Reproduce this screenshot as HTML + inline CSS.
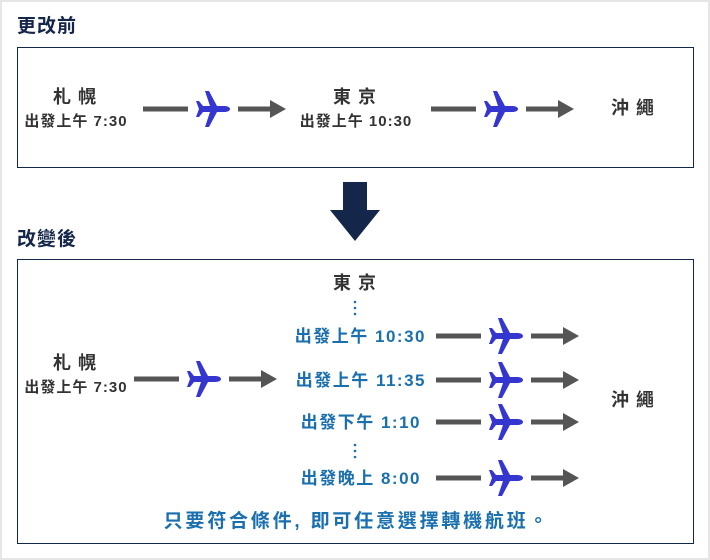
<!DOCTYPE html>
<html><head><meta charset="utf-8"><style>
html,body{margin:0;padding:0;background:#fff}
svg{display:block}
text{font-family:"Liberation Sans","Noto Sans CJK TC",sans-serif;font-weight:bold}
</style></head><body>
<svg width="710" height="560" viewBox="0 0 710 560" xmlns="http://www.w3.org/2000/svg">
<defs>
<path id="pl" fill="#3535d0" d="M17,0 C17,-2 14,-3 11,-3 L4,-3 L-4,-18 L-8,-18 L-3,-3 L-10,-3 L-14,-8 L-17,-8 L-14,0 L-17,8 L-14,8 L-10,3 L-3,3 L-8,18 L-4,18 L4,3 L11,3 C14,3 17,2 17,0 Z"/>
<g id="fl">
<rect x="0" y="-2.5" width="45" height="5" fill="#555"/>
<use href="#pl" x="70" y="0"/>
<rect x="95" y="-2.5" width="33" height="5" fill="#555"/>
<polygon points="127,-9 143,0 127,9" fill="#555"/>
</g>
</defs>
<rect x="0.5" y="0.5" width="709" height="559" fill="#fff" stroke="#e6e6e6" stroke-width="3"/>
<text x="17" y="32" font-size="19" letter-spacing="1" fill="#14264a">更改前</text>
<rect x="17.5" y="47.5" width="676" height="120" fill="none" stroke="#14264a" stroke-width="1"/>
<g fill="#333" text-anchor="middle">
<text x="75" y="103" font-size="18" letter-spacing="1">札 幌</text>
<text x="76" y="126" font-size="15" letter-spacing="1">出發上午 7:30</text>
<text x="355" y="103" font-size="18" letter-spacing="1">東 京</text>
<text x="356" y="126" font-size="15" letter-spacing="1">出發上午 10:30</text>
<text x="633" y="114" font-size="18" letter-spacing="1">沖 繩</text>
</g>
<use href="#fl" x="143" y="109"/>
<use href="#fl" x="431" y="109"/>
<polygon points="343,182 367,182 367,210 380,210 355,241 330,210 343,210" fill="#14264a"/>
<text x="17" y="245" font-size="19" letter-spacing="1" fill="#14264a">改變後</text>
<rect x="17.5" y="259.5" width="676" height="284" fill="none" stroke="#14264a" stroke-width="1"/>
<g fill="#333" text-anchor="middle">
<text x="355" y="289" font-size="18" letter-spacing="1">東 京</text>
<text x="75" y="369" font-size="18" letter-spacing="1">札 幌</text>
<text x="76" y="392" font-size="15" letter-spacing="1">出發上午 7:30</text>
<text x="633" y="406" font-size="18" letter-spacing="1">沖 繩</text>
</g>
<g fill="#1a6fae">
<circle cx="355" cy="302" r="1.3"/><circle cx="355" cy="308" r="1.3"/><circle cx="355" cy="314" r="1.3"/>
<circle cx="355" cy="445" r="1.3"/><circle cx="355" cy="451" r="1.3"/><circle cx="355" cy="457" r="1.3"/>
</g>
<g fill="#1a6fae" text-anchor="end" font-size="17" letter-spacing="1.5">
<text x="426" y="342">出發上午 10:30</text>
<text x="426" y="386">出發上午 11:35</text>
<text x="421" y="428">出發下午 1:10</text>
<text x="421" y="484">出發晚上 8:00</text>
</g>
<use href="#fl" x="134" y="379"/>
<use href="#fl" x="436" y="336"/>
<use href="#fl" x="436" y="380"/>
<use href="#fl" x="436" y="422"/>
<use href="#fl" x="436" y="478"/>
<text x="357" y="527" font-size="19" letter-spacing="2.8" fill="#1a6fae" text-anchor="middle">只要符合條件, 即可任意選擇轉機航班。</text>
</svg>
</body></html>
